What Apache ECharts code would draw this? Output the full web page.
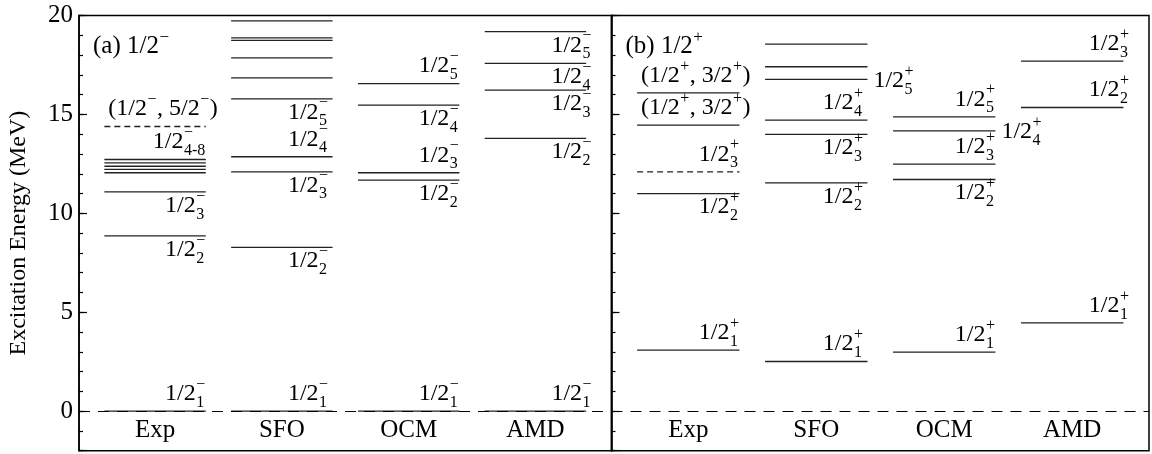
<!DOCTYPE html>
<html>
<head>
<meta charset="utf-8">
<script src="https://cdn.jsdelivr.net/npm/echarts@6/dist/echarts.min.js"></script>
<style>
  html, body { margin: 0; padding: 0; background: #fff; }
  #chart { width: 1152px; height: 454px; }
</style>
</head>
<body>
<div id="chart"></div>
<script>
// Excitation spectra of 1/2− and 1/2+ states: experiment vs. three models
const columns = ['Exp', 'SFO', 'OCM', 'AMD'];

// (a) 1/2− levels, MeV
const negExp = [0, 8.86, 11.08, 12.05, 12.22, 12.38, 12.55, 12.72];
const negExpTentative = [14.39];
const negSFO = [0, 8.28, 12.10, 12.86, 15.79, 16.85, 17.86, 18.74, 18.87, 19.73];
const negOCM = [0, 11.68, 12.05, 15.47, 16.56];
const negAMD = [0, 13.79, 16.23, 17.58, 19.18];

// (b) 1/2+ levels, MeV
const posExp = [3.08, 11.00, 14.46, 16.09];
const posExpTentative = [12.10];
const posSFO = [2.51, 11.54, 13.99, 14.71, 16.77, 17.41, 18.55];
const posOCM = [2.98, 11.71, 12.49, 14.17, 14.88];
const posAMD = [4.46, 15.35, 17.69];

// state labels: [column, level, subscript, side]
const negLabels = [
  ['Exp', negExp[0], '1', 'above'],
  ['Exp', negExp[1], '2', 'below'],
  ['Exp', negExp[2], '3', 'below'],
  ['Exp', negExp[7], '4-8', 'above'],
  ['SFO', negSFO[0], '1', 'above'],
  ['SFO', negSFO[1], '2', 'below'],
  ['SFO', negSFO[2], '3', 'below'],
  ['SFO', negSFO[3], '4', 'above'],
  ['SFO', negSFO[4], '5', 'below'],
  ['OCM', negOCM[0], '1', 'above'],
  ['OCM', negOCM[1], '2', 'below'],
  ['OCM', negOCM[2], '3', 'above'],
  ['OCM', negOCM[3], '4', 'below'],
  ['OCM', negOCM[4], '5', 'above'],
  ['AMD', negAMD[0], '1', 'above'],
  ['AMD', negAMD[1], '2', 'below'],
  ['AMD', negAMD[2], '3', 'below'],
  ['AMD', negAMD[3], '4', 'below'],
  ['AMD', negAMD[4], '5', 'below']
];
const posLabels = [
  ['Exp', posExp[0], '1', 'above'],
  ['Exp', posExp[1], '2', 'below'],
  ['Exp', posExpTentative[0], '3', 'above'],
  ['SFO', posSFO[0], '1', 'above'],
  ['SFO', posSFO[1], '2', 'below'],
  ['SFO', posSFO[2], '3', 'below'],
  ['SFO', posSFO[3], '4', 'above'],
  ['SFO', posSFO[4], '5', 'right'],
  ['OCM', posOCM[0], '1', 'above'],
  ['OCM', posOCM[1], '2', 'below'],
  ['OCM', posOCM[2], '3', 'above'],
  ['OCM', posOCM[3], '4', 'right'],
  ['OCM', posOCM[4], '5', 'above'],
  ['AMD', posAMD[0], '1', 'above'],
  ['AMD', posAMD[1], '2', 'above'],
  ['AMD', posAMD[2], '3', 'above']
];

// spin-parity assignments written over experimental levels
const negNotes = [['Exp', negExpTentative[0], '(1/2−, 5/2−)']];
const posNotes = [
  ['Exp', posExp[3], '(1/2+, 3/2+)'],
  ['Exp', posExp[2], '(1/2+, 3/2+)']
];

const panelTitles = ['(a) 1/2−', '(b) 1/2+'];
const axisTitle = 'Excitation Energy (MeV)';

// ---- drawing helpers ----
const SERIF = '"Liberation Serif", "Times New Roman", Times, serif';
const INK = '#000';
const LEVEL_INK = '#222';
const BASE = 24, SMALL = 16;
const HALF = 0.4;          // half length of a level bar, in column units
const CAT_ROW = -1.0;      // energy row where column names sit
const colNudge = { Exp: 0, SFO: -4, OCM: 0, AMD: 6 };

const measureCtx = document.createElement('canvas').getContext('2d');
function textWidth(t, size) {
  measureCtx.font = size + 'px ' + SERIF;
  return measureCtx.measureText(t).width;
}
function textEl(t, x, y, size, align) {
  return {
    type: 'text', silent: true,
    style: { text: t, x: x, y: y, fontSize: size, fontFamily: SERIF, fill: INK,
             align: align || 'left', verticalAlign: 'middle' }
  };
}
// text where every '+' or '−' is set as a superscript
function inlineText(str, x, cy, size, supSize) {
  const out = [];
  let buf = '';
  const flush = () => {
    if (buf) { out.push(textEl(buf, x, cy, size)); x += textWidth(buf, size); buf = ''; }
  };
  for (const ch of str) {
    if (ch === '+' || ch === '−') {
      flush();
      out.push(textEl(ch, x + 0.5, cy - 9, supSize));
      x += textWidth(ch, supSize) + 1;
    } else buf += ch;
  }
  flush();
  return out;
}
function stateLabel(parity, sub, side, col, x1, x2, y) {
  const baseW = textWidth('1/2', BASE);
  const tailW = Math.max(textWidth(sub, SMALL), textWidth(parity, SMALL));
  let left, cy;
  if (side === 'right') { left = x2 + 6; cy = y + 1; }
  else {
    left = x2 + colNudge[col] - tailW - baseW - 1;
    cy = side === 'above' ? y - 17.5 : y + 13.5;
  }
  const tx = left + baseW + 0.5;
  return [
    textEl('1/2', left, cy, BASE),
    textEl(parity, tx, cy - 9, SMALL),
    textEl(sub, tx, cy + 9, SMALL)
  ];
}

function levelData(sets) {
  const data = [];
  sets.forEach(([col, levels, dashed]) => {
    const x = columns.indexOf(col) + 1;
    levels.forEach(e => data.push([x, e, dashed ? 1 : 0]));
  });
  return data;
}
function renderLevel(params, api) {
  const x = api.value(0), e = api.value(1), dashed = api.value(2);
  const a = api.coord([x - HALF, e]);
  const b = api.coord([x + HALF, e]);
  return {
    type: 'line', silent: true,
    shape: { x1: a[0], y1: a[1], x2: b[0], y2: b[1] },
    style: { stroke: LEVEL_INK, lineWidth: 1.3, lineDash: dashed ? [6, 4] : null }
  };
}
function labelRenderer(labels, parity) {
  return function (params, api) {
    const [col, , sub, side] = labels[params.dataIndex];
    const x = api.value(0), e = api.value(1);
    const a = api.coord([x - HALF, e]);
    const b = api.coord([x + HALF, e]);
    return { type: 'group', children: stateLabel(parity, sub, side, col, a[0], b[0], a[1]) };
  };
}
function noteRenderer(notes) {
  return function (params, api) {
    const x = api.value(0), e = api.value(1);
    const a = api.coord([x - HALF, e]);
    return { type: 'group', children: inlineText(notes[params.dataIndex][2], a[0] + 4, a[1] - 17.5, BASE, SMALL) };
  };
}
function renderColumnName(params, api) {
  const p = api.coord([api.value(0), api.value(1)]);
  return textEl(columns[params.dataIndex], p[0], p[1], 25, 'center');
}
function renderPanelTitle(title) {
  return function (params, api) {
    const p = api.coord([api.value(0), api.value(1)]);
    return { type: 'group', children: inlineText(title, p[0] + 14, p[1] + 31, 25, 17) };
  };
}
const toXY = list => list.map(l => [columns.indexOf(l[0]) + 1, l[1]]);
const zeroLine = {
  silent: true, symbol: ['none', 'none'], label: { show: false },
  lineStyle: { type: [11, 8], color: INK, width: 1.2 },
  emphasis: { disabled: true },
  data: [{ yAxis: 0 }]
};

const gridBase = { top: 15.5, bottom: 3.3, show: true, borderColor: INK, borderWidth: 1.5, backgroundColor: 'transparent' };
function minorAxis(gi, withLabels) {
  return {
    type: 'value', gridIndex: gi, position: 'left', min: -2, max: 20, interval: 1,
    axisLine: { show: true, lineStyle: { color: INK, width: 1.5 } },
    axisTick: { show: true, inside: true, length: 4, lineStyle: { color: INK, width: 1.2 } },
    axisLabel: withLabels ? {
      show: true, margin: 6, fontSize: 25, fontFamily: SERIF, color: INK,
      formatter: v => (v >= 0 && v % 5 === 0) ? String(v) : ''
    } : { show: false },
    splitLine: { show: false },
    name: withLabels ? axisTitle : '',
    nameLocation: 'middle', nameGap: 48,
    nameTextStyle: { fontSize: 24, fontFamily: SERIF, color: INK }
  };
}
function majorAxis(gi) {
  return {
    type: 'value', gridIndex: gi, position: 'left', offset: 0, min: -2, max: 20,
    axisLine: { show: false },
    axisTick: { show: true, inside: true, length: 8, lineStyle: { color: INK, width: 1.2 } },
    axisLabel: { show: false },
    splitLine: { show: false }
  };
}
const xAxisFor = gi => ({ type: 'value', gridIndex: gi, min: 0.4, max: 4.6, show: false });

const colNameData = columns.map((c, i) => [i + 1, CAT_ROW]);
const cornerData = [[0.4, 20]];

const option = {
  animation: false,
  backgroundColor: '#fff',
  grid: [
    Object.assign({ left: 79, width: 532.5 }, gridBase),
    Object.assign({ left: 611.5, width: 537.5 }, gridBase)
  ],
  xAxis: [xAxisFor(0), xAxisFor(1)],
  yAxis: [minorAxis(0, true), majorAxis(0), minorAxis(1, false), majorAxis(1)],
  series: [
    {
      type: 'custom', xAxisIndex: 0, yAxisIndex: 0, renderItem: renderLevel,
      data: levelData([['Exp', negExp], ['Exp', negExpTentative, true], ['SFO', negSFO], ['OCM', negOCM], ['AMD', negAMD]]),
      markLine: zeroLine
    },
    { type: 'custom', xAxisIndex: 0, yAxisIndex: 0, renderItem: labelRenderer(negLabels, '−'), data: toXY(negLabels) },
    { type: 'custom', xAxisIndex: 0, yAxisIndex: 0, renderItem: noteRenderer(negNotes), data: toXY(negNotes) },
    { type: 'custom', xAxisIndex: 0, yAxisIndex: 0, renderItem: renderColumnName, data: colNameData },
    { type: 'custom', xAxisIndex: 0, yAxisIndex: 0, renderItem: renderPanelTitle(panelTitles[0]), data: cornerData },
    {
      type: 'custom', xAxisIndex: 1, yAxisIndex: 2, renderItem: renderLevel,
      data: levelData([['Exp', posExp], ['Exp', posExpTentative, true], ['SFO', posSFO], ['OCM', posOCM], ['AMD', posAMD]]),
      markLine: zeroLine
    },
    { type: 'custom', xAxisIndex: 1, yAxisIndex: 2, renderItem: labelRenderer(posLabels, '+'), data: toXY(posLabels) },
    { type: 'custom', xAxisIndex: 1, yAxisIndex: 2, renderItem: noteRenderer(posNotes), data: toXY(posNotes) },
    { type: 'custom', xAxisIndex: 1, yAxisIndex: 2, renderItem: renderColumnName, data: colNameData },
    { type: 'custom', xAxisIndex: 1, yAxisIndex: 2, renderItem: renderPanelTitle(panelTitles[1]), data: cornerData }
  ]
};

const chart = echarts.init(document.getElementById('chart'), null, { renderer: 'canvas' });
chart.setOption(option);
</script>
</body>
</html>
